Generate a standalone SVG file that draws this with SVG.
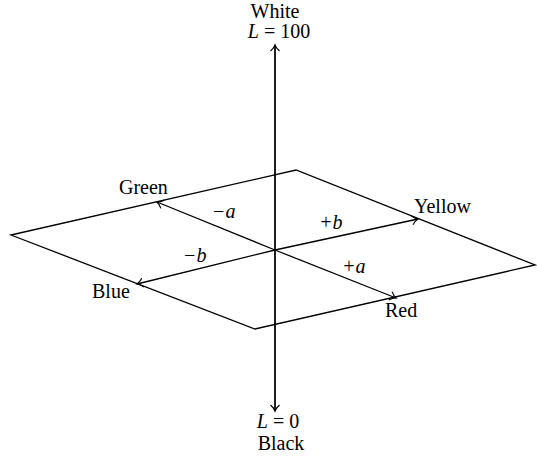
<svg xmlns="http://www.w3.org/2000/svg" width="537" height="457" viewBox="0 0 537 457">
<style>
.ln{stroke:#000;stroke-width:1.3;fill:none}
.t{font-family:"Liberation Serif","Times New Roman",serif;font-size:20px;fill:#000}
.i{font-style:italic}
</style>
<defs>
<marker id="ah" markerWidth="12" markerHeight="12" refX="9" refY="6" orient="auto" markerUnits="userSpaceOnUse">
<path d="M3,1.5 Q6,5 9,6 Q6,7 3,10.5" fill="none" stroke="#000" stroke-width="1.2"/>
</marker>
</defs>
<rect width="537" height="457" fill="#fff"/>
<g id="plane">
<polygon class="ln" points="11,235 296,170 535,265 255,329"/>
</g>
<g id="connectors">
<line class="ln" x1="275" y1="411" x2="275" y2="45" marker-end="url(#ah)"/>
<line class="ln" x1="275" y1="45" x2="275" y2="411" marker-end="url(#ah)"/>
<line class="ln" x1="275" y1="250" x2="157" y2="202" marker-end="url(#ah)"/>
<line class="ln" x1="275" y1="250" x2="396" y2="298" marker-end="url(#ah)"/>
<line class="ln" x1="275" y1="250" x2="418" y2="219" marker-end="url(#ah)"/>
<line class="ln" x1="275" y1="250" x2="137" y2="284" marker-end="url(#ah)"/>
</g>
<g id="white">
<text class="t" x="275" y="18" text-anchor="middle">White</text>
<text class="t" x="279" y="38" text-anchor="middle"><tspan class="i">L</tspan> = 100</text>
</g>
<g id="black">
<text class="t" x="278" y="428" text-anchor="middle"><tspan class="i">L</tspan> = 0</text>
<text class="t" x="281" y="450" text-anchor="middle">Black</text>
</g>
<g id="green"><text class="t" x="119" y="194">Green</text></g>
<g id="yellow"><text class="t" x="414" y="213">Yellow</text></g>
<g id="blue"><text class="t" x="92" y="298">Blue</text></g>
<g id="red"><text class="t" x="385" y="317">Red</text></g>
<g id="neg-a"><text class="t i" x="212" y="218">−a</text></g>
<g id="pos-b"><text class="t i" x="319" y="229">+b</text></g>
<g id="neg-b"><text class="t i" x="183" y="262">−b</text></g>
<g id="pos-a"><text class="t i" x="342" y="273">+a</text></g>
</svg>
